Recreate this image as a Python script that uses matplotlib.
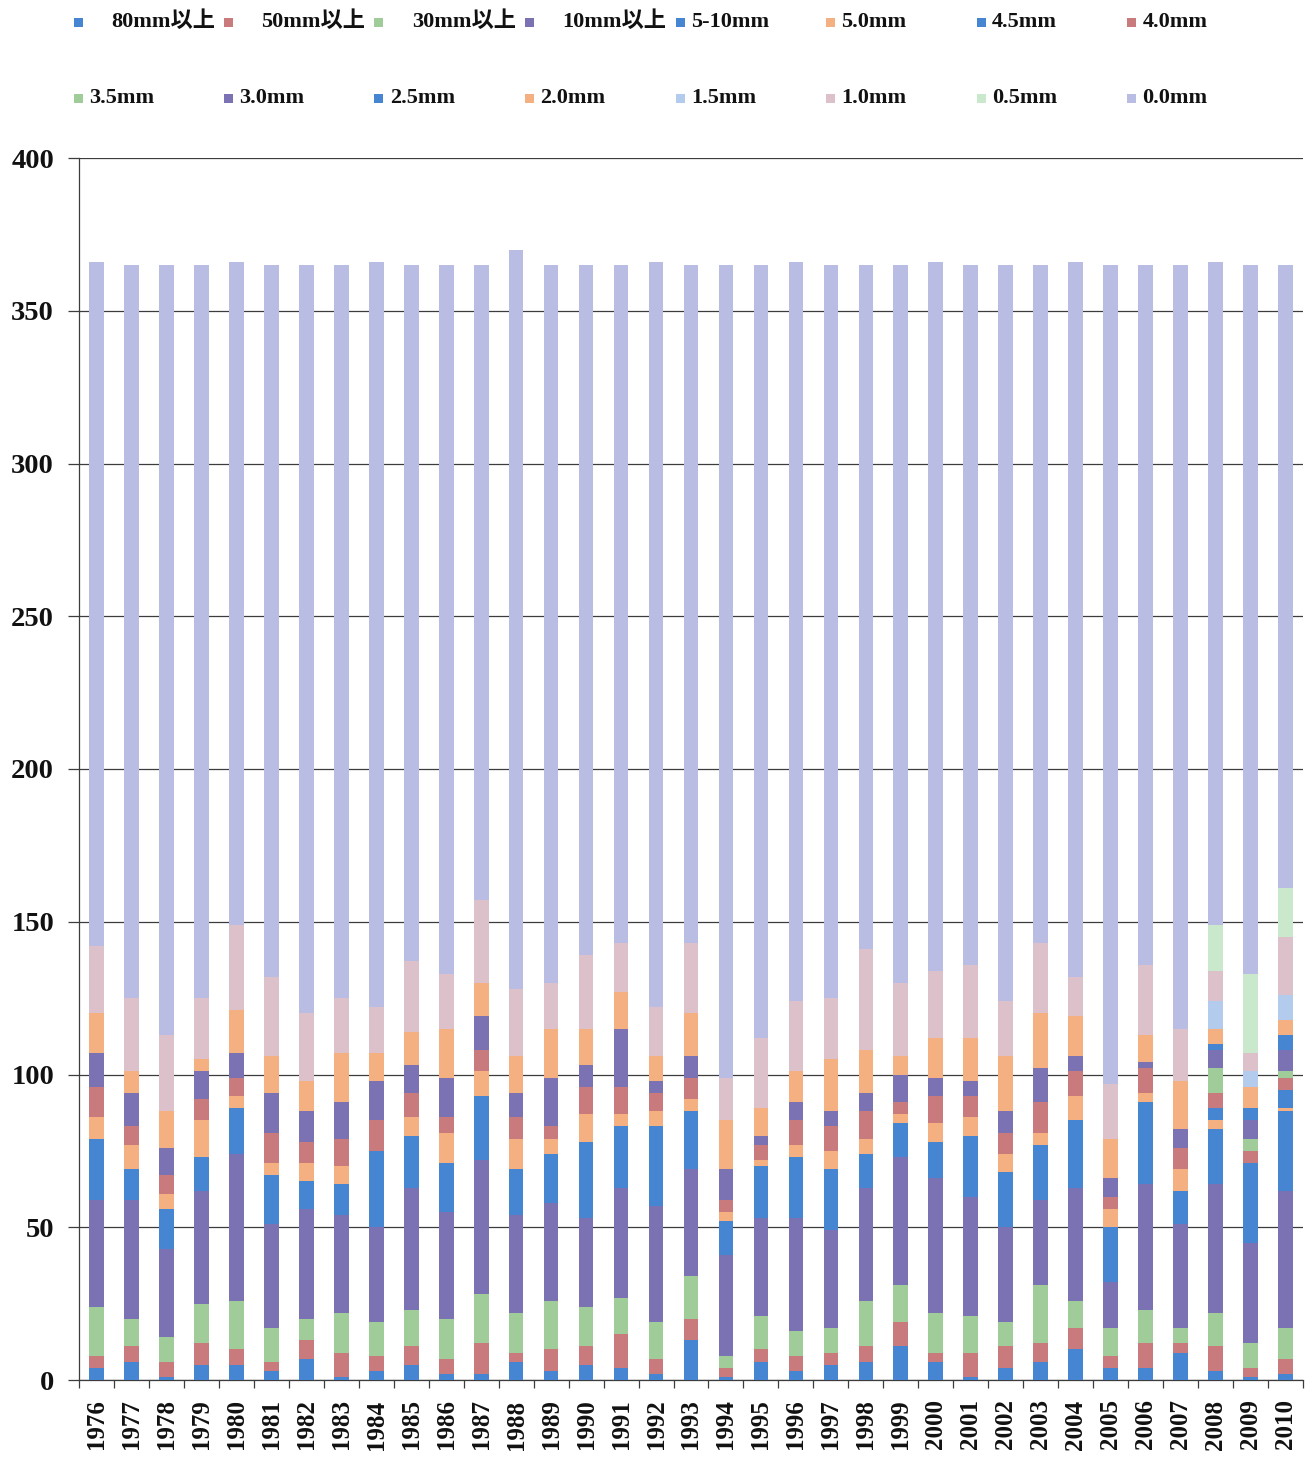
import numpy as np
import matplotlib
matplotlib.use("Agg")
import matplotlib.pyplot as plt
from matplotlib.patches import Rectangle

plt.rcParams["font.family"] = ["Liberation Serif", "Noto Sans CJK JP"]
plt.rcParams["font.weight"] = "bold"

# ---- data: number of days per daily-precipitation class, 1976-2010 ----
years = list(range(1976, 2011))

labels = ["80mm以上", "50mm以上", "30mm以上", "10mm以上", "5-10mm", "5.0mm",
          "4.5mm", "4.0mm", "3.5mm", "3.0mm", "2.5mm", "2.0mm",
          "1.5mm", "1.0mm", "0.5mm", "0.0mm"]

d80 = [4, 6, 1, 5, 5, 3, 7, 1, 3, 5, 2, 2, 6, 3, 5, 4, 2, 13, 1, 6,
       3, 5, 6, 11, 6, 1, 4, 6, 10, 4, 4, 9, 3, 1, 2]
d50 = [4, 5, 5, 7, 5, 3, 6, 8, 5, 6, 5, 10, 3, 7, 6, 11, 5, 7, 3, 4,
       5, 4, 5, 8, 3, 8, 7, 6, 7, 4, 8, 3, 8, 3, 5]
d30 = [16, 9, 8, 13, 16, 11, 7, 13, 11, 12, 13, 16, 13, 16, 13, 12, 12, 14, 4, 11,
       8, 8, 15, 12, 13, 12, 8, 19, 9, 9, 11, 5, 11, 8, 10]
d10 = [35, 39, 29, 37, 48, 34, 36, 32, 31, 40, 35, 44, 32, 32, 29, 36, 38, 35, 33, 32,
       37, 32, 37, 42, 44, 39, 31, 28, 37, 15, 41, 34, 42, 33, 45]
d5_10 = [20, 10, 13, 11, 15, 16, 9, 10, 25, 17, 16, 21, 15, 16, 25, 20, 26, 19, 11, 17,
         20, 20, 11, 11, 12, 20, 18, 18, 22, 18, 27, 11, 18, 26, 26]
d5_0 = [7, 8, 5, 12, 4, 4, 6, 6, 0, 6, 10, 8, 10, 5, 9, 4, 5, 4, 3, 2,
        4, 6, 5, 3, 6, 6, 6, 4, 8, 6, 3, 7, 3, 0, 1]
d4_5 = [0, 0, 0, 0, 0, 0, 0, 0, 0, 0, 0, 0, 0, 0, 0, 0, 0, 0, 0, 0,
        0, 0, 0, 0, 0, 0, 0, 0, 0, 0, 0, 0, 4, 0, 6]
d4_0 = [10, 6, 6, 7, 6, 10, 7, 9, 10, 8, 5, 7, 7, 4, 9, 9, 6, 7, 4, 5,
        8, 8, 9, 4, 9, 7, 7, 10, 8, 4, 8, 7, 5, 4, 4]
d3_5 = [0, 0, 0, 0, 0, 0, 0, 0, 0, 0, 0, 0, 0, 0, 0, 0, 0, 0, 0, 0,
        0, 0, 0, 0, 0, 0, 0, 0, 0, 0, 0, 0, 8, 4, 2]
d3_0 = [11, 11, 9, 9, 8, 13, 10, 12, 13, 9, 13, 11, 8, 16, 7, 19, 4, 7, 10, 3,
        6, 5, 6, 9, 6, 5, 7, 11, 5, 6, 2, 6, 6, 6, 7]
d2_5 = [0, 0, 0, 0, 0, 0, 0, 0, 0, 0, 0, 0, 0, 0, 0, 0, 0, 0, 0, 0,
        0, 0, 0, 0, 0, 0, 0, 0, 0, 0, 0, 0, 2, 4, 5]
d2_0 = [13, 7, 12, 4, 14, 12, 10, 16, 9, 11, 16, 11, 12, 16, 12, 12, 8, 14, 16, 9,
        10, 17, 14, 6, 13, 14, 18, 18, 13, 13, 9, 16, 5, 7, 5]
d1_5 = [0, 0, 0, 0, 0, 0, 0, 0, 0, 0, 0, 0, 0, 0, 0, 0, 0, 0, 0, 0,
        0, 0, 0, 0, 0, 0, 0, 0, 0, 0, 0, 0, 9, 5, 8]
d1_0 = [22, 24, 25, 20, 28, 26, 22, 18, 15, 23, 18, 27, 22, 15, 24, 16, 16, 23, 14, 23,
        23, 20, 33, 24, 22, 24, 18, 23, 13, 18, 23, 17, 10, 6, 19]
d0_5 = [0, 0, 0, 0, 0, 0, 0, 0, 0, 0, 0, 0, 0, 0, 0, 0, 0, 0, 0, 0,
        0, 0, 0, 0, 0, 0, 0, 0, 0, 0, 0, 0, 15, 26, 16]
d0_0 = [224, 240, 252, 240, 217, 233, 245, 240, 244, 228, 232, 208, 242, 235, 226, 222, 244, 222, 266, 253,
        242, 240, 224, 235, 232, 229, 241, 222, 234, 268, 229, 250, 217, 232, 204]

series = [d80, d50, d30, d10, d5_10, d5_0, d4_5, d4_0,
          d3_5, d3_0, d2_5, d2_0, d1_5, d1_0, d0_5, d0_0]

BLUE, RED, GREEN, PURPLE = "#4585d2", "#c97a7d", "#9fcc98", "#7b72b3"
ORANGE, LBLUE, PINK, LGREEN, LAV = "#f4b080", "#b3cbec", "#ddc1ca", "#c9e8cc", "#b9bde4"
colors = [BLUE, RED, GREEN, PURPLE, BLUE, ORANGE, BLUE, RED,
          GREEN, PURPLE, BLUE, ORANGE, LBLUE, PINK, LGREEN, LAV]

# ---- figure ----
W, H = 1307, 1457
fig = plt.figure(figsize=(W / 100, H / 100), dpi=100)
ax = fig.add_axes([79 / W, 77 / H, 1224 / W, 1222 / H])

x = np.arange(len(years))
bottom = np.zeros(len(years))
for vals, col in zip(series, colors):
    v = np.array(vals, dtype=float)
    ax.bar(x, v, width=0.42, bottom=bottom, color=col, linewidth=0, zorder=3)
    bottom += v

ax.set_xlim(-0.5, len(years) - 0.5)
ax.set_ylim(0, 400)
ax.set_yticks(np.arange(0, 401, 50))
ax.yaxis.grid(True, color="#3c3c3c", linewidth=0.9)
ax.set_axisbelow(True)

for s in ("top", "right"):
    ax.spines[s].set_visible(False)
for s in ("left", "bottom"):
    ax.spines[s].set_color("#3c3c3c")
    ax.spines[s].set_linewidth(0.9)

ax.tick_params(axis="y", length=8, width=0.9, color="#3c3c3c", pad=10,
               labelsize=20.5, labelcolor="#111111")
ax.set_xticks(x)
ax.set_xticklabels([str(y) for y in years], rotation=90, va="top")
ax.tick_params(axis="x", which="major", length=0, pad=14, labelsize=18,
               labelcolor="#111111")
ax.set_xticks(np.arange(-0.5, len(years), 1), minor=True)
ax.tick_params(axis="x", which="minor", length=6, width=0.9, color="#3c3c3c")

# ---- legend: two rows of eight entries across the top ----
for i, (lab, col) in enumerate(zip(labels, colors)):
    row, c = divmod(i, 8)
    mx = 78 + c * 150.5
    my = 22 if row == 0 else 98
    fig.patches.append(Rectangle(((mx - 4.5) / W, 1 - (my + 4.5) / H), 9 / W, 9 / H,
                                 transform=fig.transFigure, color=col, linewidth=0))
    tx = mx + (33 if (row == 0 and c < 4) else 11)
    fig.text(tx / W, 1 - my / H, lab, fontsize=16, va="center", ha="left",
             color="#111111")

fig.savefig("out.png", dpi=100)
